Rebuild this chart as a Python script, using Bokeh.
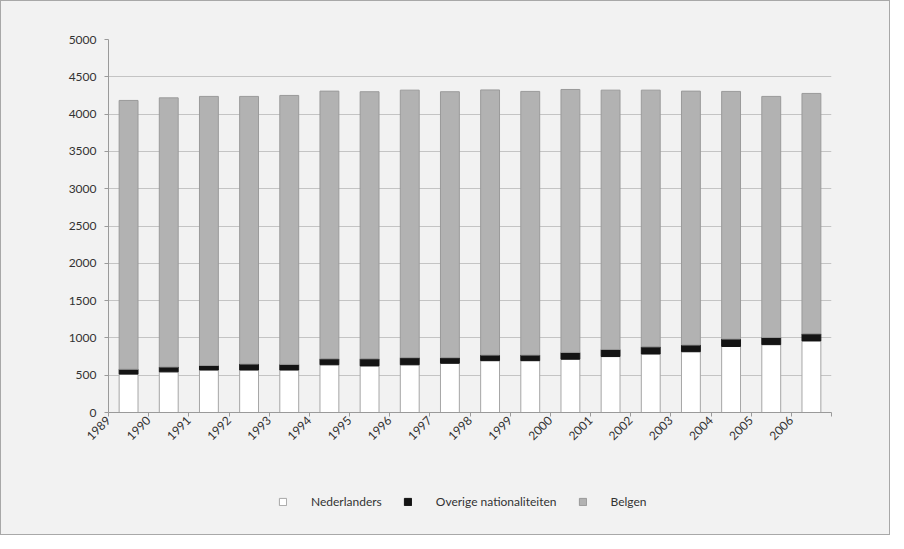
from math import pi
from bokeh.plotting import figure
from bokeh.layouts import column
from bokeh.models import ColumnDataSource, FixedTicker, Legend
from bokeh.embed import file_html
from bokeh.resources import INLINE

years = [str(y) for y in range(1989, 2007)]
nederlanders = [515, 545, 570, 570, 570, 640, 625, 640, 660, 695, 695, 715, 750, 785, 815, 885, 910, 960]
overige = [65, 65, 60, 80, 75, 80, 95, 95, 75, 75, 75, 90, 95, 95, 90, 100, 95, 95]
totaal = [4183, 4218, 4237, 4237, 4250, 4308, 4300, 4321, 4300, 4324, 4304, 4330, 4321, 4321, 4308, 4304, 4237, 4277]
belgen = [t - n - o for t, n, o in zip(totaal, nederlanders, overige)]
series = ["Nederlanders", "Overige nationaliteiten", "Belgen"]
y_ticks = list(range(0, 5001, 500))

FONT = "Lato"
BG = "#f2f2f2"
FILLS = ["#ffffff", "#141414", "#b2b2b2"]
LINES = ["#a6a6a6", "#141414", "#9a9a9a"]

src = ColumnDataSource(dict(
    x=[i + 0.5 for i in range(len(years))],
    ned=nederlanders, ov=overige, bel=belgen,
))

p = figure(width=888, height=480, x_range=(0, len(years)), y_range=(0, 5000),
           output_backend="svg", toolbar_location=None,
           min_border_left=107, min_border_right=58, min_border_top=38, min_border_bottom=69,
           background_fill_color=BG, border_fill_color=BG)
p.outline_line_color = None

p.vbar_stack(["ned", "ov", "bel"], x="x", width=0.47, source=src,
             fill_color=FILLS, line_color=LINES, line_width=1)

# axes
p.xaxis.ticker = FixedTicker(ticks=list(range(len(years) + 1)))
p.xaxis.major_label_overrides = {i: years[i] for i in range(len(years))} | {len(years): ""}
p.xaxis.major_label_orientation = pi / 4
p.xaxis.minor_tick_line_color = None
p.xaxis.major_tick_in = 0
p.xaxis.major_tick_out = 4
p.xaxis.major_label_standoff = 2
p.yaxis.ticker = FixedTicker(ticks=y_ticks)
p.yaxis.minor_tick_line_color = None
p.yaxis.major_tick_in = 0
p.yaxis.major_tick_out = 4
p.yaxis.major_label_standoff = 8
for ax in (p.xaxis, p.yaxis):
    ax.axis_line_color = "#9a9a9a"
    ax.major_tick_line_color = "#9a9a9a"
    ax.major_label_text_font = FONT
    ax.major_label_text_font_size = "12px"
    ax.major_label_text_color = "#333333"

p.xgrid.grid_line_color = None
p.ygrid.grid_line_color = "#c4c4c4"
p.ygrid.ticker = FixedTicker(ticks=y_ticks)

# legend strip below the chart (its own copies of the series are hidden)
lg = figure(width=888, height=53, x_range=(0, len(years)), y_range=(-10, -5),
            output_backend="svg", toolbar_location=None,
            x_axis_location=None, y_axis_location=None,
            min_border=0, background_fill_color=BG, border_fill_color=BG)
lg.outline_line_color = None
lg.grid.visible = False
lrs = lg.vbar_stack(["ned", "ov", "bel"], x="x", width=0.47, source=src,
                    fill_color=FILLS, line_color=LINES, line_width=1)
for r in lrs:
    r.visible = False

legend = Legend(items=[(s, [r]) for s, r in zip(series, lrs)],
                orientation="horizontal", location=(170, 25),
                background_fill_alpha=0, border_line_color=None,
                padding=0, margin=0, spacing=21, label_standoff=24,
                glyph_width=9, glyph_height=9,
                label_text_font=FONT, label_text_font_size="12px",
                label_text_color="#333333")
lg.add_layout(legend, "center")

layout = column(p, lg, spacing=0)
layout.styles = {"border": "1px solid #a8a8a8", "background-color": BG}

open("out.html", "w").write(file_html(layout, INLINE))
